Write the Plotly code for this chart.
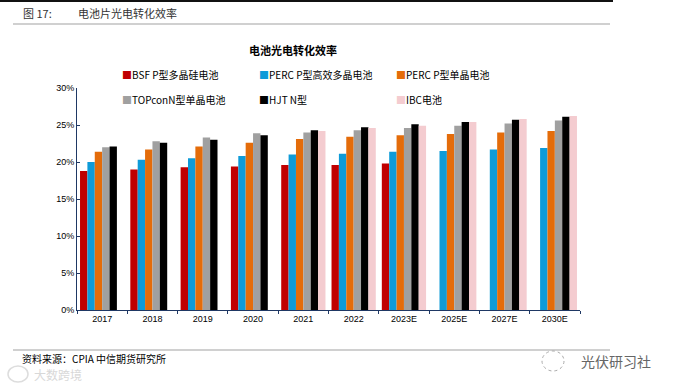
import plotly.graph_objects as go

categories = ["2017", "2018", "2019", "2020", "2021", "2022", "2023E", "2025E", "2027E", "2030E"]
series_names = ["BSF P型多晶硅电池", "PERC P型高效多晶电池", "PERC P型单晶电池",
                "TOPconN型单晶电池", "HJT N型", "IBC电池"]
series_colors = ["#C00000", "#0E9BD8", "#E46C0A", "#A0A0A0", "#000000", "#F4CCD0"]

bsf = [18.8, 19.0, 19.3, 19.4, 19.6, 19.6, 19.8, None, None, None]
perc_poly = [20.0, 20.3, 20.5, 20.8, 21.0, 21.1, 21.4, 21.5, 21.7, 21.9]
perc_mono = [21.4, 21.7, 22.1, 22.6, 23.1, 23.4, 23.6, 23.8, 24.0, 24.2]
topcon = [22.0, 22.8, 23.3, 23.9, 24.0, 24.3, 24.6, 24.9, 25.2, 25.6]
hjt = [22.1, 22.6, 23.0, 23.6, 24.3, 24.7, 25.1, 25.4, 25.7, 26.1]
ibc = [None, None, None, None, 24.2, 24.6, 24.9, 25.4, 25.8, 26.2]

series_values = [bsf, perc_poly, perc_mono, topcon, hjt, ibc]
y_ticks = [0, 5, 10, 15, 20, 25, 30]
y_tick_labels = ["0%", "5%", "10%", "15%", "20%", "25%", "30%"]

fig = go.Figure()
for name, color, vals in zip(series_names, series_colors, series_values):
    fig.add_trace(go.Bar(x=categories, y=vals, name=name, marker=dict(color=color, line=dict(width=0)),
                         showlegend=False))

W, H = 673, 389
L, R, T, B = 77, 93, 88, 79

fig.update_layout(
    width=W, height=H,
    margin=dict(l=L, r=R, t=T, b=B),
    paper_bgcolor="white", plot_bgcolor="white",
    barmode="group", bargap=0.12, bargroupgap=0,
    font=dict(family="Liberation Sans, Arial, sans-serif", size=9, color="#000"),
    xaxis=dict(type="category", showline=True, linecolor="#1F3864", linewidth=1,
               ticks="outside", tickson="boundaries", ticklen=3, tickcolor="#1F3864",
               tickfont=dict(size=9, family="Liberation Sans, Arial", color="#000"),
               showgrid=False),
    yaxis=dict(range=[0, 30], tickvals=y_ticks, ticktext=y_tick_labels,
               showline=True, linecolor="#1F3864", linewidth=1,
               ticks="inside", ticklen=3, tickcolor="#1F3864",
               tickfont=dict(size=9, family="Liberation Sans, Arial", color="#000"),
               showgrid=False, zeroline=False),
)

def px_x(px):
    return (px - L) / (W - L - R)

def px_y(py):
    return (H - B - py) / (H - T - B)

ann = []
# chart title
ann.append(dict(text="<b>电池光电转化效率</b>", x=px_x(293), y=px_y(50), xref="paper", yref="paper",
                showarrow=False, font=dict(family="Noto Sans CJK SC", size=11, color="#000"),
                xanchor="center", yanchor="middle"))
# legend built from series names/colors
leg_x = [120, 257, 394]
leg_y = [74, 99]
for i, (name, color) in enumerate(zip(series_names, series_colors)):
    r, c = divmod(i, 3)
    ann.append(dict(text=f'<span style="color:{color}">■</span>{name}',
                    x=px_x(leg_x[c]), y=px_y(leg_y[r]), xref="paper", yref="paper",
                    showarrow=False, xanchor="left", yanchor="middle",
                    font=dict(family="Noto Sans CJK SC", size=10, color="#000")))
# header
ann.append(dict(text="图 17:", x=px_x(21), y=px_y(13), xref="paper", yref="paper", showarrow=False,
                xanchor="left", yanchor="middle", font=dict(family="Noto Sans CJK SC", size=11, color="#333")))
ann.append(dict(text="电池片光电转化效率", x=px_x(76), y=px_y(13), xref="paper", yref="paper", showarrow=False,
                xanchor="left", yanchor="middle", font=dict(family="Noto Sans CJK SC", size=11, color="#333")))
# footer
ann.append(dict(text="资料来源：CPIA 中信期货研究所", x=px_x(20), y=px_y(358), xref="paper", yref="paper",
                showarrow=False, xanchor="left", yanchor="middle",
                font=dict(family="Noto Sans CJK SC", size=10, color="#000")))
ann.append(dict(text="光伏研习社", x=px_x(653), y=px_y(361), xref="paper", yref="paper",
                showarrow=False, xanchor="right", yanchor="middle",
                font=dict(family="Noto Sans CJK SC", size=14, color="#666")))
ann.append(dict(text="大数跨境", x=px_x(32), y=px_y(374), xref="paper", yref="paper",
                showarrow=False, xanchor="left", yanchor="middle",
                font=dict(family="Noto Sans CJK SC", size=12, color="#d8d8d8")))
fig.update_layout(annotations=ann)

shapes = [
    dict(type="rect", xref="paper", yref="paper", x0=px_x(0), x1=px_x(613), y0=px_y(0), y1=px_y(2),
         fillcolor="#111", line=dict(width=0)),
    dict(type="line", xref="paper", yref="paper", x0=px_x(13), x1=px_x(610), y0=px_y(24), y1=px_y(24),
         line=dict(color="#D0D0D0", width=2)),
    dict(type="line", xref="paper", yref="paper", x0=px_x(13), x1=px_x(610), y0=px_y(350), y1=px_y(350),
         line=dict(color="#D0D0D0", width=2)),
    dict(type="circle", xref="paper", yref="paper", x0=px_x(542), x1=px_x(564), y0=px_y(351), y1=px_y(371),
         line=dict(color="#aaa", width=1, dash="dot")),
    dict(type="circle", xref="paper", yref="paper", x0=px_x(8), x1=px_x(28), y0=px_y(366), y1=px_y(382),
         line=dict(color="#ddd", width=1.5)),
]
fig.update_layout(shapes=shapes)

fig.write_html("out.html", config={"displayModeBar": False},
               post_script="document.body.style.margin='0';")
